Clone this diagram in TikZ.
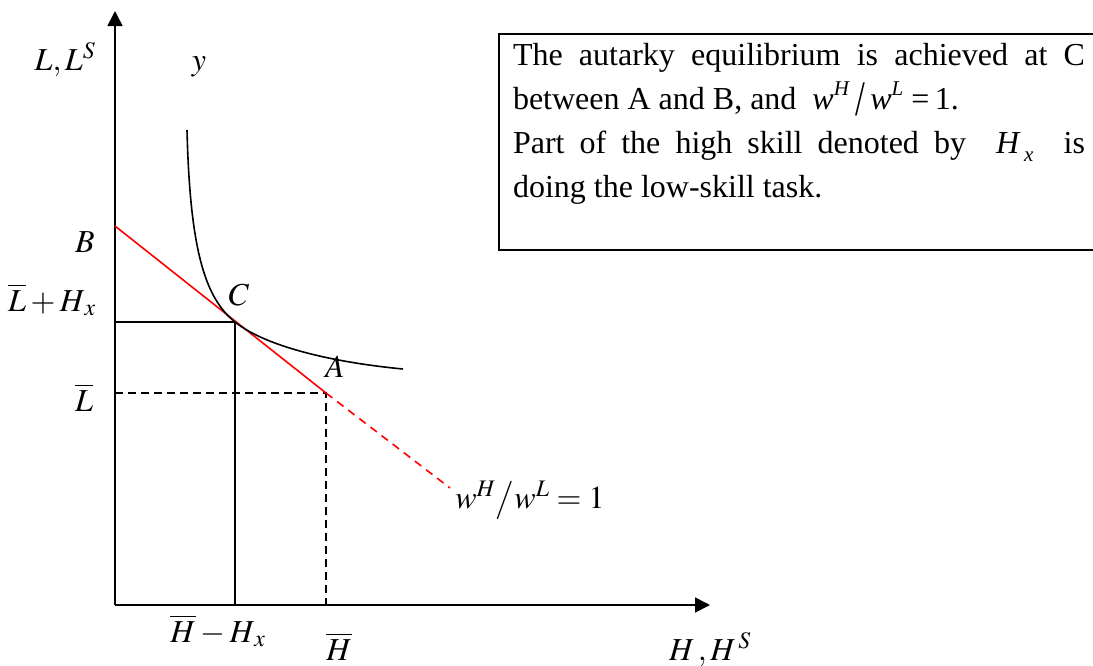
\documentclass[tikz,border=0pt]{standalone}
\usepackage{graphicx}
\usepackage{mathptmx}
\usepackage{fontspec}
\setmainfont{Liberation Serif}
\usetikzlibrary{arrows.meta}
\newcommand{\supit}[1]{\raisebox{0.42em}{\fontsize{21}{21}\selectfont\textit{#1}}}
\newcommand{\bigslash}{\raisebox{-0.2em}{\scalebox{1.1}[1.55]{/}}}
\begin{document}
\begin{tikzpicture}[x=1pt,y=-1pt,
  every node/.style={inner sep=0pt,outer sep=0pt,font=\fontsize{32}{44}\selectfont},
  axis/.style={line width=1.6pt,-{Triangle[length=15pt,width=15pt]}},
  solidline/.style={line width=1.6pt},
  dashline/.style={line width=1.4pt,dash pattern=on 8pt off 5pt},
  redline/.style={line width=1.6pt,red},
  reddash/.style={line width=1.6pt,red,dash pattern=on 8pt off 6pt},
  lbl/.style={anchor=base},
  notebox/.style={anchor=base west,text width=572pt,align=justify}]
\useasboundingbox (0,0) rectangle (1093,665);
% points
\coordinate (O) at (115,605);
\coordinate (Ytip) at (115,11);
\coordinate (Xtip) at (710,605);
\coordinate (B) at (115,226);
\coordinate (C) at (235,322);
\coordinate (A) at (326,393);
\coordinate (Cx) at (235,605);
\coordinate (Cy) at (115,322);
\coordinate (Ax) at (326,605);
\coordinate (Ay) at (115,393);
\coordinate (Rend) at (450,488);
\coordinate (Ytop) at (187,130);
\coordinate (Yend) at (403,369);
% axes
\draw[axis] (O) -- (Ytip);
\draw[axis] (O) -- (Xtip);
% guides
\draw[solidline] (Cy) -- (C) -- (Cx);
\draw[dashline] (Ay) -- (A) -- (Ax);
% budget line
\draw[redline] (B) -- (A);
\draw[reddash] (A) -- (Rend);
% indifference curve
\draw[solidline] (Ytop) .. controls (190,250) and (205,298) .. (C)
  .. controls (265,346) and (330,362) .. (Yend);
% labels
\node[lbl] (lL) at (65,70) {$L, L^{S}$};
\node[lbl] (ly) at (199,70) {$y$};
\node[lbl] (lB) at (85,252) {$B$};
\node[lbl] (lLH) at (52,311) {$\overline{L}+H_{\,x}$};
\node[lbl] (lC) at (239,305) {$C$};
\node[lbl] (lA) at (335,377) {$A$};
\node[lbl] (lLb) at (84,411) {$\overline{L}$};
\node[lbl] (lw) at (530,508) {$w^{H}\big/w^{L}=1$};
\node[lbl] (lHH) at (218,642) {$\overline{H}-H_{\,x}$};
\node[lbl] (lHb) at (339,660) {$\overline{H}$};
\node[lbl] (lHS) at (710,660) {$H\,,H^{\,S}$};
% text box
\draw[line width=1.4pt] (1093,34) -- (499,34) -- (499,250) -- (1093,250);
\node[notebox] (note) at (513,65) {The autarky equilibrium is achieved at C\linebreak
between A and B, and\ \ \textit{w}\supit{H}\,\bigslash\,\textit{w}\supit{L}\ =\,1.\par
Part of the high skill denoted by\ \ \textit{H}\raisebox{-0.25em}{\fontsize{21}{21}\selectfont\,\textit{x}}\ \ is\linebreak
doing the low-skill task.};
\end{tikzpicture}
\end{document}
